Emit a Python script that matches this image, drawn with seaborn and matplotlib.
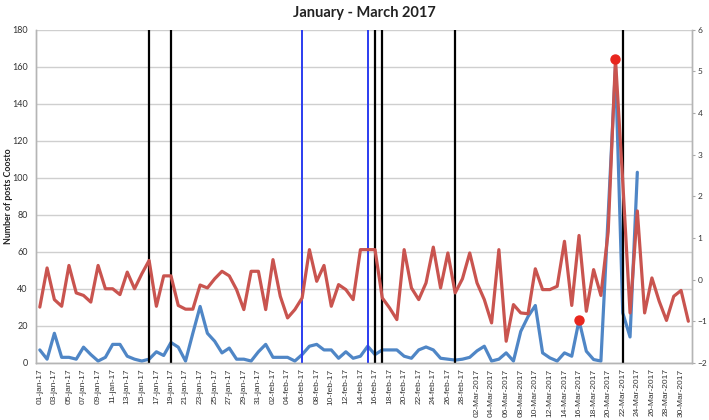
import matplotlib
matplotlib.use("Agg")
import matplotlib.pyplot as plt
import numpy as np
import pandas as pd
import seaborn as sns

# Dagelijkse data 01-jan-2017 t/m 31-mrt-2017
datums = pd.date_range("2017-01-01", "2017-03-31", freq="D")

# Aantal posts Coosto (linker as), geen data na 23-mrt
posts = [
    7, 2, 16, 3, 3, 2, 8.5, 4.5, 1, 3,
    10, 10, 3.6, 2, 1, 2, 6, 4, 11, 8.5,
    1, 16, 30.5, 16, 11.7, 5.4, 8, 2, 2,
    1, 6, 10, 3, 3, 3, 1, 4.5, 9, 10,
    7, 7, 2.5, 6, 2.5, 3.6, 9, 4.5, 7, 7,
    7, 3.6, 2.5, 7, 8.6, 7, 2.5, 2, 1.5, 2,
    3, 6.5,
    9, 1, 2, 5.4, 1, 17, 25, 31, 5.4, 2.7,
    1, 5.4, 3.6, 23, 6.3, 1.8, 1, 80, 160, 27,
    14, 103,
] + [np.nan] * 7

# Tweede reeks (rechter as)
score = [
    -0.66, 0.28, -0.48, -0.64, 0.34, -0.32, -0.38, -0.54, 0.34, -0.22,
    -0.22, -0.36, 0.18, -0.22, 0.14, 0.46, -0.64, 0.09, 0.09, -0.62,
    -0.71, -0.71, -0.13, -0.2, 0.02, 0.2, 0.09, -0.24, -0.72,
    0.2, 0.2, -0.72, 0.48, -0.4, -0.92, -0.72, -0.44, 0.72, -0.04,
    0.34, -0.64, -0.12, -0.24, -0.48, 0.72, 0.72, 0.72, -0.44, -0.68,
    -0.96, 0.72, -0.2, -0.48, -0.08, 0.78, -0.2, 0.64, -0.32, 0.02,
    0.64, -0.08,
    -0.48, -1.04, 0.72, -1.48, -0.6, -0.8, -0.82, 0.26, -0.24, -0.24,
    -0.16, 0.92, -0.62, 1.06, -0.76, 0.24, -0.38, 1.15, 5.3, 2.35,
    -0.8, 1.65, -0.8, 0.04, -0.52, -0.98, -0.4, -0.26, -1.0,
]

# Gebeurtenissen (verticale lijnen)
zwarte_lijnen = ["2017-01-16", "2017-01-19", "2017-02-16", "2017-02-17",
                 "2017-02-27", "2017-03-22"]
blauwe_lijnen = ["2017-02-06", "2017-02-15"]

# Gemarkeerde punten
punt_posts = "2017-03-16"
punt_score = "2017-03-21"

df = pd.DataFrame({"datum": datums, "posts": posts, "score": score})
df["pos"] = np.arange(len(df))


def positie(datum):
    return int((pd.Timestamp(datum) - datums[0]).days)


def label(d):
    if d.month < 3:
        return d.strftime("%d-%b-%y").lower()
    return d.strftime("%d-%b-%Y")


sns.set_theme(style="white")
plt.rcParams["font.family"] = ["Lato", "DejaVu Sans"]

BLAUW = "#4F86C6"
ROOD = "#C9544F"

fig, ax = plt.subplots(figsize=(7.09, 4.2), dpi=100)
fig.subplots_adjust(left=0.051, right=0.976, top=0.929, bottom=0.136)
ax2 = ax.twinx()

ax.set_xlim(-0.5, len(df) - 0.5)
ax.set_ylim(0, 180)
ax2.set_ylim(-2, 6)
ax.set_yticks(np.arange(0, 181, 20))
ax2.set_yticks(np.arange(-2, 7, 1))

ax.grid(axis="y", color="#cfcfcf", linewidth=1.0)
ax.set_axisbelow(True)

sns.lineplot(data=df, x="pos", y="posts", ax=ax, color=BLAUW, linewidth=2.3, zorder=3)
sns.lineplot(data=df, x="pos", y="score", ax=ax2, color=ROOD, linewidth=2.3, zorder=3)

for d in zwarte_lijnen:
    ax.axvline(positie(d), color="black", linewidth=1.6, zorder=4)
for d in blauwe_lijnen:
    ax.axvline(positie(d), color="#2b3cf0", linewidth=1.4, zorder=4)

p = positie(punt_posts)
ax.scatter([p], [df["posts"][p]], s=42, color="#e8261e", zorder=6)
p = positie(punt_score)
ax2.scatter([p], [df["score"][p]], s=42, color="#e8261e", zorder=6)

ticks = df["pos"][::2]
ax.set_xticks(ticks)
ax.set_xticklabels([label(d) for d in df["datum"][::2]], rotation=90,
                   fontsize=6, color="#333333", family=["Liberation Sans"])
ax.tick_params(axis="x", length=0, pad=4)
ax.tick_params(axis="y", labelsize=6.5, labelcolor="#333333", length=0, pad=6)
ax2.tick_params(axis="y", labelsize=6, labelcolor="#333333", length=2.5,
                color="#aaaaaa", width=0.8, pad=1.5)

ax.set_xlabel("")
ax.set_ylabel("Number of posts Coosto", fontsize=6.3, fontweight="bold",
              color="#222222")
ax.yaxis.set_label_coords(-0.035, 0.5)
ax2.set_ylabel("")
ax.set_title("January - March 2017", fontsize=10.5, fontweight="bold",
             color="#222222", pad=9)

for a in (ax, ax2):
    a.spines["top"].set_visible(False)
    for s in ("left", "right", "bottom"):
        a.spines[s].set_color("#b5b5b5")
        a.spines[s].set_linewidth(1.0)

fig.savefig("out.png", dpi=100)
